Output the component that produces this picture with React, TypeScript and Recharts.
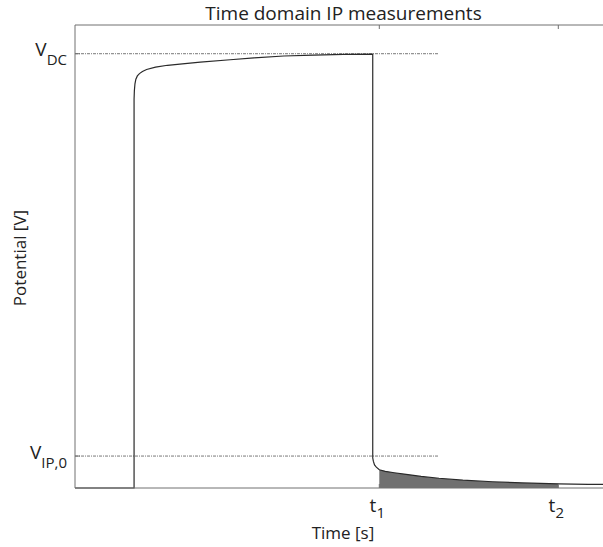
import React from "react"
import { ComposedChart, Line, Area, XAxis, YAxis, ReferenceLine } from "recharts"

// time [s] and potential [V]
const time = [
    0, 0.99, 0.99, 0.995, 1.005, 1.02, 1.045, 1.08, 1.13, 1.2, 1.35, 1.55, 1.8, 2.1, 2.6, 3.0, 3.5, 4.0, 4.5, 4.99,
    4.99, 5.0, 5.02, 5.05, 5.1, 5.2, 5.35, 5.55, 5.8, 6.1, 6.5, 7.0, 7.5, 8.1, 8.6, 9.0,
]
const potential = [
    0, 0, 84, 85.8, 87.3, 88.3, 89.0, 89.5, 89.95, 90.4, 90.9, 91.3, 91.6, 92.0, 92.5, 92.9, 93.3, 93.5, 93.65, 93.7,
    6.5, 5.8, 5.0, 4.5, 3.95, 3.6, 3.3, 2.95, 2.5, 2.1, 1.7, 1.35, 1.1, 0.9, 0.8, 0.75,
]

const T1 = 5.1
const T2 = 8.1
const V_DC = 93.8
const V_IP0 = 6.9
const refLineEnd = 6.1

const xTicks = [T1, T2]
const xTickLabels = [["t", "1"], ["t", "2"]]
const yTicks = [V_IP0, V_DC]
const yTickLabels = [["V", "IP,0"], ["V", "DC"]]

const data = time.map((t, i) => ({
    t,
    v: potential[i],
    ip: t >= T1 && t <= T2 ? potential[i] : null,
}))

const font = "'Open Sans', 'Noto Sans', sans-serif"
const axisColor = "#707070"
const textColor = "#222"

function YTick(props: any) {
    const { x, y, payload } = props
    const [main, sub] = yTickLabels[yTicks.indexOf(payload.value)] || ["", ""]
    return (
        <g>
            <line x1={x} x2={x + 5} y1={y} y2={y} stroke={axisColor} />
            <text x={x - 8} y={y + 2.5} textAnchor="end" fontSize={19} fill={textColor} fontFamily={font}>
                <tspan>{main}</tspan>
                <tspan dy={9} fontSize={15}>{sub}</tspan>
            </text>
        </g>
    )
}

function XTick(props: any) {
    const { x, y, payload } = props
    const [main, sub] = xTickLabels[xTicks.indexOf(payload.value)] || ["", ""]
    return (
        <g>
            <line x1={x} x2={x} y1={y} y2={y - 4} stroke={axisColor} />
            <text x={x - 2} y={y + 24} textAnchor="middle" fontSize={19} fill={textColor} fontFamily={font}>
                <tspan>{main}</tspan>
                <tspan dy={6} fontSize={15}>{sub}</tspan>
            </text>
        </g>
    )
}

function TopTick(props: any) {
    const { x, y } = props
    return <line x1={x} x2={x} y1={y} y2={y + 4} stroke={axisColor} />
}

export default function App() {
    return (
        <div style={{ position: "absolute", left: 0, top: 0, width: 603, height: 547, overflow: "hidden", background: "#fff" }}>
            <ComposedChart
                width={640}
                height={547}
                data={data}
                margin={{ top: 5, right: 28, bottom: 29, left: 15 }}
            >
                <XAxis
                    dataKey="t"
                    type="number"
                    domain={[0, 9]}
                    ticks={xTicks}
                    interval={0}
                    height={30}
                    tickSize={0}
                    tickMargin={0}
                    tick={<XTick />}
                    axisLine={{ stroke: axisColor }}
                    tickLine={false}
                />
                <XAxis
                    xAxisId="top"
                    orientation="top"
                    dataKey="t"
                    type="number"
                    domain={[0, 9]}
                    ticks={xTicks}
                    interval={0}
                    height={20}
                    tickSize={0}
                    tickMargin={0}
                    tick={<TopTick />}
                    axisLine={{ stroke: axisColor }}
                    tickLine={false}
                />
                <YAxis
                    type="number"
                    domain={[0, 100]}
                    ticks={yTicks}
                    interval={0}
                    width={60}
                    tickSize={0}
                    tickMargin={0}
                    tick={<YTick />}
                    axisLine={{ stroke: axisColor }}
                    tickLine={false}
                />
                <ReferenceLine
                    segment={[{ x: 0, y: V_DC }, { x: refLineEnd, y: V_DC }]}
                    stroke="#555"
                    strokeWidth={0.8}
                    strokeDasharray="3 1 1 1"
                    ifOverflow="visible"
                />
                <ReferenceLine
                    segment={[{ x: 0, y: V_IP0 }, { x: refLineEnd, y: V_IP0 }]}
                    stroke="#555"
                    strokeWidth={0.8}
                    strokeDasharray="3 1 1 1"
                    ifOverflow="visible"
                />
                <Area
                    dataKey="ip"
                    type="linear"
                    fill="#707070"
                    fillOpacity={1}
                    stroke="none"
                    isAnimationActive={false}
                    connectNulls={false}
                />
                <Line
                    dataKey="v"
                    type="linear"
                    stroke="#2a2a2a"
                    strokeWidth={1.2}
                    dot={false}
                    isAnimationActive={false}
                />
            </ComposedChart>
            <svg width={603} height={547} style={{ position: "absolute", left: 0, top: 0, pointerEvents: "none" }}>
                <text x={343.5} y={20} textAnchor="middle" fontSize={19} fill={textColor} fontFamily={font}>
                    Time domain IP measurements
                </text>
                <text x={343} y={539} textAnchor="middle" fontSize={17} fill={textColor} fontFamily={font}>
                    Time [s]
                </text>
                <text
                    transform="translate(26, 258) rotate(-90)"
                    textAnchor="middle"
                    fontSize={17}
                    fill={textColor}
                    fontFamily={font}
                >
                    Potential [V]
                </text>
            </svg>
        </div>
    )
}
